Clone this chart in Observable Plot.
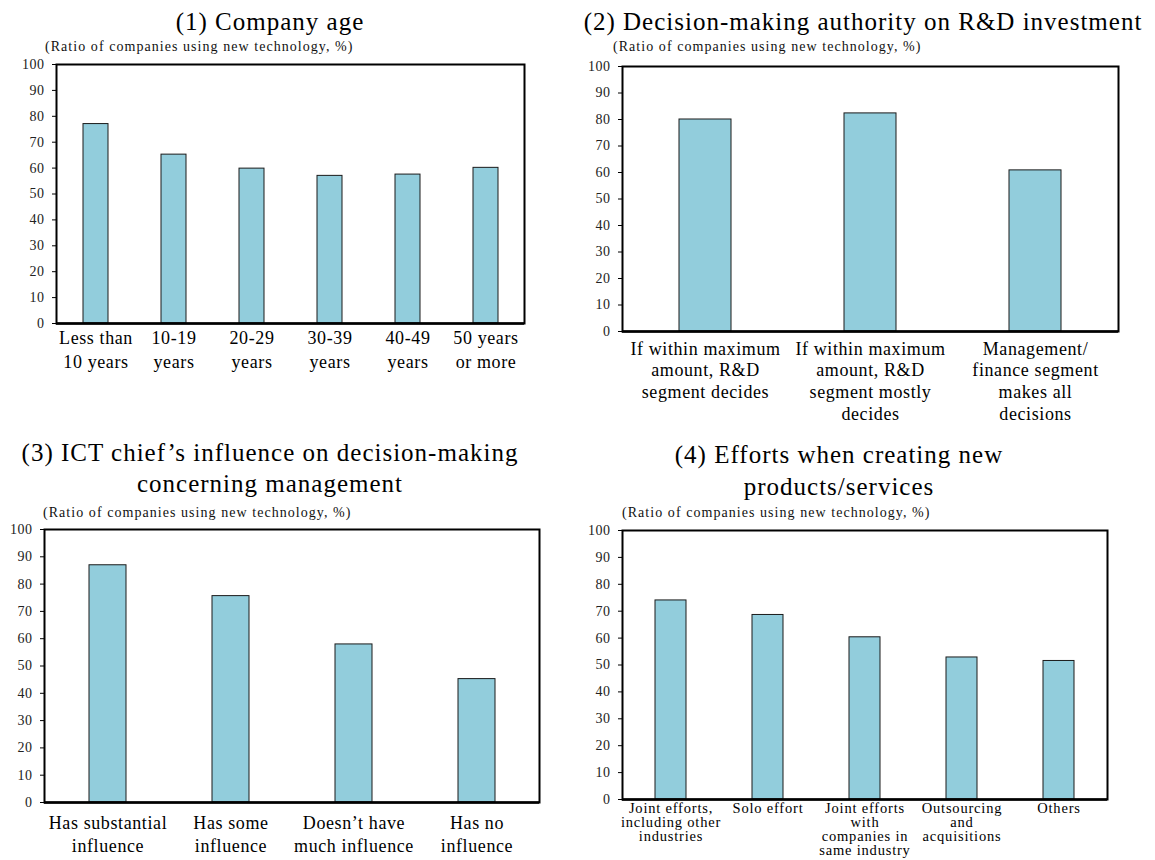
<!DOCTYPE html>
<html><head><meta charset="utf-8">
<script src="https://cdn.jsdelivr.net/npm/d3@7"></script>
<script src="https://cdn.jsdelivr.net/npm/@observablehq/plot@0.6"></script>
<style>
body{margin:0;background:#fff;}
#root{position:relative;width:1155px;height:860px;overflow:hidden;font-family:"Liberation Serif","Times New Roman",serif;color:#000;}
.title{position:absolute;width:700px;text-align:center;font-size:25px;letter-spacing:1px;white-space:nowrap;line-height:31px;}
.sub{position:absolute;font-size:14px;letter-spacing:1.05px;white-space:nowrap;line-height:16px;color:#111;}
.plot{position:absolute;overflow:visible;}
</style></head><body><div id="root"></div>
<script>
// ---- data ----
const subtitleText = "(Ratio of companies using new technology, %)";
const yTicks = [0, 10, 20, 30, 40, 50, 60, 70, 80, 90, 100];

const title1 = "(1) Company age";
const ageCategories = ["Less than 10 years", "10-19 years", "20-29 years", "30-39 years", "40-49 years", "50 years or more"];
const ageLabels = ["Less than\n10 years", "10-19\nyears", "20-29\nyears", "30-39\nyears", "40-49\nyears", "50 years\nor more"];
const ageValues = [77.0, 65.2, 59.8, 57.0, 57.5, 60.1];

const title2 = "(2) Decision-making authority on R&D investment";
const authorityCategories = ["R&D decides", "R&D mostly decides", "Management decides"];
const authorityLabels = ["If within maximum\namount, R&D\nsegment decides", "If within maximum\namount, R&D\nsegment mostly\ndecides", "Management/\nfinance segment\nmakes all\ndecisions"];
const authorityValues = [80.0, 82.3, 60.8];

const title3 = "(3) ICT chief\u2019s influence on decision-making\nconcerning management";
const influenceCategories = ["Substantial", "Some", "Not much", "None"];
const influenceLabels = ["Has substantial\ninfluence", "Has some\ninfluence", "Doesn\u2019t have\nmuch influence", "Has no\ninfluence"];
const influenceValues = [86.9, 75.6, 57.9, 45.2];

const title4 = "(4) Efforts when creating new\nproducts/services";
const effortCategories = ["Joint other industries", "Solo", "Joint same industry", "Outsourcing", "Others"];
const effortLabels = ["Joint efforts,\nincluding other\nindustries", "Solo effort", "Joint efforts\nwith\ncompanies in\nsame industry", "Outsourcing\nand\nacquisitions", "Others"];
const effortValues = [74.0, 68.6, 60.3, 52.8, 51.5];

// ---- layout ----
const root = document.getElementById("root");

function addText(cls, text, left, top, extra) {
  const d = document.createElement("div");
  d.className = cls;
  d.style.left = left + "px";
  d.style.top = top + "px";
  if (extra) Object.assign(d.style, extra);
  text.split("\n").forEach((line, i) => {
    if (i) d.appendChild(document.createElement("br"));
    d.appendChild(document.createTextNode(line));
  });
  root.appendChild(d);
}

function panel(cfg) {
  const {cats, labels, values, fx, fy, fw, fh, labelSize, lineHeight, labelPad, padding} = cfg;
  const ml = 50, mr = 20, mt = 10, mb = 90;
  const data = cats.map((c, i) => ({cat: c, value: values[i]}));
  const svg = Plot.plot({
    width: ml + fw + mr,
    height: mt + fh + mb,
    marginLeft: ml, marginRight: mr, marginTop: mt, marginBottom: mb,
    style: {fontFamily: "'Liberation Serif', 'Times New Roman', serif", background: "transparent", color: "#000", overflow: "visible"},
    x: {domain: cats, paddingInner: padding, paddingOuter: padding / 2, label: null},
    y: {domain: [0, 100], label: null},
    marks: [
      Plot.barY(data, {x: "cat", y: "value", fill: "#92CDDC", stroke: "#1a1a1a", strokeWidth: 1}),
      Plot.frame({stroke: "#000", strokeWidth: 2}),
      Plot.ruleY([0], {stroke: "#000", strokeWidth: 2.6}),
      Plot.axisY({ticks: yTicks, tickSize: 4, tickPadding: 8, fontSize: 14, fill: "#222"}),
      Plot.axisX({tickSize: 0, tickPadding: labelPad, fontSize: labelSize, lineHeight: lineHeight, fill: "#000",
                  tickFormat: d => labels[cats.indexOf(d)]})
    ]
  });
  svg.classList.add("plot");
  svg.style.left = (fx - ml) + "px";
  svg.style.top = (fy - mt) + "px";
  svg.querySelectorAll("g[aria-label='y-axis tick label'] text").forEach(t => t.style.letterSpacing = "0.5px");
  svg.querySelectorAll("g[aria-label='x-axis tick label'] text").forEach(t => t.style.letterSpacing = cfg.letterSpacing || "0.6px");
  root.appendChild(svg);
}

// Panel 1
addText("title", title1, 270 - 350, 6);
addText("sub", subtitleText, 45, 39);
panel({cats: ageCategories, labels: ageLabels, values: ageValues, fx: 56, fy: 64, fw: 468, fh: 259, labelSize: 18, lineHeight: 1.33, labelPad: 4, padding: 0.68});

// Panel 2
addText("title", title2, 863 - 350, 6);
addText("sub", subtitleText, 613, 39);
panel({cats: authorityCategories, labels: authorityLabels, values: authorityValues, fx: 622, fy: 66, fw: 496, fh: 265, labelSize: 18, lineHeight: 1.2, labelPad: 8, padding: 0.685});

// Panel 3
addText("title", title3, 270 - 350, 437);
addText("sub", subtitleText, 43, 505);
panel({cats: influenceCategories, labels: influenceLabels, values: influenceValues, fx: 44, fy: 529, fw: 495, fh: 273, labelSize: 18, lineHeight: 1.28, labelPad: 10, padding: 0.7});

// Panel 4
addText("title", title4, 839 - 350, 439, {lineHeight: "32px"});
addText("sub", subtitleText, 622, 505);
panel({cats: effortCategories, labels: effortLabels, values: effortValues, fx: 622, fy: 530, fw: 485, fh: 269, labelSize: 14.5, lineHeight: 0.97, labelPad: 3, padding: 0.68, letterSpacing: "0.8px"});
</script>
</body></html>
